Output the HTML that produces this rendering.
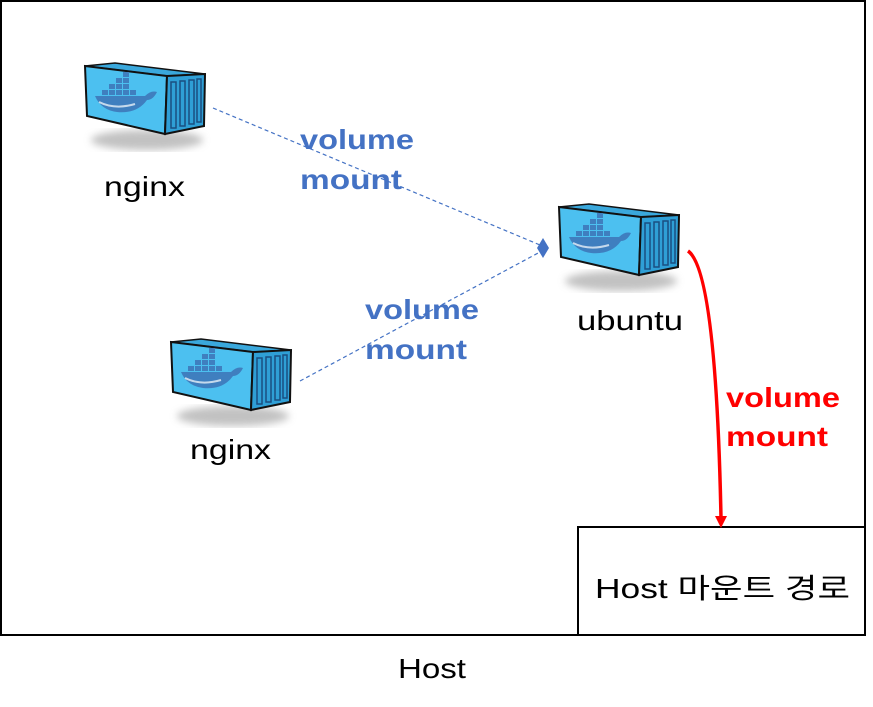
<!DOCTYPE html>
<html><head><meta charset="utf-8"><style>
html,body{margin:0;padding:0;background:#fff;}
body{width:873px;height:707px;position:relative;overflow:hidden;font-family:"Liberation Sans","Noto Sans CJK KR",sans-serif;}
</style></head><body>
<svg width="873" height="707" viewBox="0 0 873 707" xmlns="http://www.w3.org/2000/svg" style="position:absolute;left:0;top:0">
<defs>
<filter id="blur"><feGaussianBlur stdDeviation="4"/></filter>
<g id="ctr">
  <ellipse cx="62" cy="74" rx="56" ry="10" fill="#999" opacity="0.6" filter="url(#blur)"/>
  <polygon points="0,0 30,-3 120,8 82,10" fill="#3aa8dc" stroke="#111" stroke-width="1.5"/>
  <polygon points="0,0 82,10 80,68 2,50" fill="#4cc0f0" stroke="#111" stroke-width="2"/>
  <polygon points="82,10 120,8 119,60 80,68" fill="#2f9fd6" stroke="#111" stroke-width="2"/>
  <g fill="none" stroke="#1a4f80" stroke-width="1.5">
    <rect x="86" y="16" width="5" height="46"/><rect x="95" y="15" width="5" height="45"/>
    <rect x="104" y="14" width="5" height="44"/><rect x="112" y="13" width="4" height="43"/>
  </g>
  <g fill="#3f7fbf">
    <rect x="24" y="18" width="6" height="5"/><rect x="31" y="18" width="6" height="5"/><rect x="38" y="18" width="6" height="5"/>
    <rect x="31" y="12" width="6" height="5"/><rect x="38" y="12" width="6" height="5"/><rect x="38" y="6" width="6" height="5"/>
    <rect x="17" y="24" width="6" height="5"/><rect x="24" y="24" width="6" height="5"/><rect x="31" y="24" width="6" height="5"/><rect x="38" y="24" width="6" height="5"/><rect x="45" y="24" width="6" height="5"/>
    <path d="M10,30 L60,30 Q66,24 72,26 Q68,34 62,34 Q52,48 32,46 Q16,44 10,30 Z"/>
  </g>
  <path d="M14,36 Q30,44 50,38" fill="none" stroke="#fff" stroke-width="2" opacity="0.7"/>
</g>
</defs>
<rect x="1" y="1" width="864" height="634" fill="none" stroke="#000" stroke-width="2"/>
<rect x="578" y="527" width="287" height="108" fill="#fff" stroke="#000" stroke-width="2"/>
<use href="#ctr" transform="translate(85,66)"/>
<use href="#ctr" transform="translate(171,342)"/>
<use href="#ctr" transform="translate(559,207)"/>
<line x1="213" y1="108" x2="540" y2="245" stroke="#4472c4" stroke-width="1.2" stroke-dasharray="4,3"/>
<line x1="300" y1="381" x2="540" y2="252" stroke="#4472c4" stroke-width="1.2" stroke-dasharray="4,3"/>
<polygon points="543,238 549,248 543,258 537,248" fill="#4472c4"/>
<path d="M688,251 Q716,270 721,518" fill="none" stroke="#f00" stroke-width="3.5"/>
<polygon points="715,516 727,516 721,528" fill="#f00"/>
<g font-size="28" fill="#000" lengthAdjust="spacingAndGlyphs">
<text x="104" y="196" textLength="81" lengthAdjust="spacingAndGlyphs">nginx</text>
<text x="190" y="459" textLength="81" lengthAdjust="spacingAndGlyphs">nginx</text>
<text x="577" y="330" textLength="106" lengthAdjust="spacingAndGlyphs">ubuntu</text>
<text x="595" y="598" textLength="255" lengthAdjust="spacingAndGlyphs">Host 마운트 경로</text>
<text x="398" y="678" textLength="68" lengthAdjust="spacingAndGlyphs">Host</text>
</g>
<g font-size="28" font-weight="bold" fill="#4472c4">
<text x="300" y="149" textLength="114" lengthAdjust="spacingAndGlyphs">volume</text><text x="300" y="189" textLength="102" lengthAdjust="spacingAndGlyphs">mount</text>
<text x="365" y="319" textLength="114" lengthAdjust="spacingAndGlyphs">volume</text><text x="365" y="359" textLength="102" lengthAdjust="spacingAndGlyphs">mount</text>
</g>
<g font-size="28" font-weight="bold" fill="#f00">
<text x="726" y="407" textLength="114" lengthAdjust="spacingAndGlyphs">volume</text><text x="726" y="446" textLength="102" lengthAdjust="spacingAndGlyphs">mount</text>
</g>
</svg>
</body></html>
